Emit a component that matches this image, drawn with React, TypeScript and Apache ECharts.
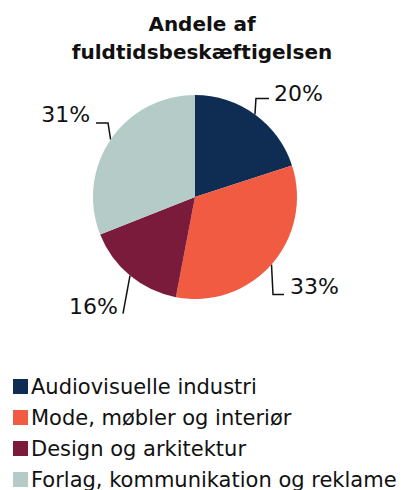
import React, { useEffect, useRef } from "react";
import * as echarts from "echarts";

const title = "Andele af\nfuldtidsbeskæftigelsen";
const categories = [
  "Audiovisuelle industri",
  "Mode, møbler og interiør",
  "Design og arkitektur",
  "Forlag, kommunikation og reklame",
];
const values = [20, 33, 16, 31];
const colors = ["#0f2d53", "#f15b42", "#7a1b3c", "#b4cbc8"];

// label-line styling per slice: [bendDx, bendDy, tailDx, textDx, textDy, align]
const labelGeom: [number, number, number, number, number, string][] = [
  [1, -16, 13, 19, -21, "left"],
  [1.5, 30, 11, 18.5, 22.5, "left"],
  [-7, 38, 0, -12, 31, "right"],
  [-2.6, -16.7, -12, -20.6, -24.7, "right"],
];

export default function App() {
  const ref = useRef<HTMLDivElement>(null);
  useEffect(() => {
    const chart = echarts.init(ref.current!, null, { renderer: "svg" });
    chart.setOption({
      animation: false,
      color: colors,
      title: {
        text: title,
        left: 194,
        textAlign: "center",
        top: 2,
        padding: 0,
        textStyle: {
          fontFamily: "DejaVu Sans",
          fontWeight: "bold",
          fontSize: 20,
          lineHeight: 28,
          color: "#111",
        },
      },
      legend: {
        orient: "vertical",
        left: 5,
        top: 368,
        padding: 0,
        itemWidth: 15,
        itemHeight: 15,
        itemGap: 10,
        icon: "rect",
        textStyle: {
          fontFamily: "DejaVu Sans",
          fontSize: 21,
          lineHeight: 21,
          color: "#111",
          padding: [0, 0, 0, -2],
        },
        data: categories,
      },
      series: [
        {
          type: "pie",
          center: [187, 189],
          radius: 102,
          startAngle: 90,
          clockwise: true,
          label: {
            show: true,
            formatter: "{c}%",
            fontFamily: "DejaVu Sans",
            fontSize: 22,
            color: "#111",
          },
          labelLine: {
            length: 12,
            length2: 10,
            lineStyle: { color: "#111", width: 1.5 },
          },
          labelLayout: (params: any) => {
            const pts = params.labelLinePoints;
            if (!pts) return {};
            const g = labelGeom[params.dataIndex];
            const p0 = pts[0];
            const p1 = [p0[0] + g[0], p0[1] + g[1]];
            const p2 = [p1[0] + g[2], p1[1]];
            return {
              x: p0[0] + g[3],
              y: p0[1] + g[4],
              align: g[5],
              verticalAlign: "middle",
              labelLinePoints: [p0, p1, p2],
            };
          },
          data: categories.map((n, i) => ({ name: n, value: values[i] })),
        },
      ],
    });
    return () => chart.dispose();
  }, []);
  return <div ref={ref} style={{ width: 405, height: 490 }} />;
}
